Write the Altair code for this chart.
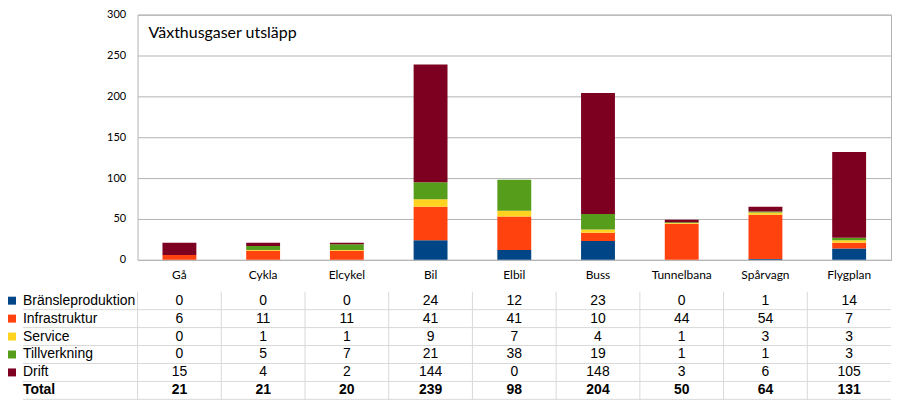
import altair as alt
import pandas as pd

categories = ["Gå", "Cykla", "Elcykel", "Bil", "Elbil", "Buss", "Tunnelbana", "Spårvagn", "Flygplan"]
series = ["Bränsleproduktion", "Infrastruktur", "Service", "Tillverkning", "Drift"]
bransle = [0, 0, 0, 24, 12, 23, 0, 1, 14]
infra = [6, 11, 11, 41, 41, 10, 44, 54, 7]
service = [0, 1, 1, 9, 7, 4, 1, 3, 3]
tillv = [0, 5, 7, 21, 38, 19, 1, 1, 3]
drift = [15, 4, 2, 144, 0, 148, 3, 6, 105]
totals = [21, 21, 20, 239, 98, 204, 50, 64, 131]
colors = ["#004586", "#ff420e", "#ffd320", "#579d1c", "#7e0021"]
y_ticks = [0, 50, 100, 150, 200, 250, 300]
title_text = "Växthusgaser utsläpp"
total_label = "Total"

values_by_series = [bransle, infra, service, tillv, drift]

rows = []
for si, (s, vals) in enumerate(zip(series, values_by_series)):
    for c, v in zip(categories, vals):
        rows.append({"cat": c, "series": s, "value": v, "order": si})
df = pd.DataFrame(rows)

table_rows = series + [total_label]
tdf = df.assign(row=df["series"], txt=df["value"].astype(str))
tot_df = pd.DataFrame({"cat": categories, "row": total_label, "txt": [str(t) for t in totals]})
labels_df = pd.DataFrame({"row": table_rows})
squares_df = pd.DataFrame({"row": series, "series": series})
cats_df = pd.DataFrame({"cat": categories})

color_scale = alt.Scale(domain=series, range=colors)
xscale = alt.Scale(domain=categories, paddingInner=0, paddingOuter=0)
row_scale = alt.Scale(domain=table_rows, paddingInner=0, paddingOuter=0)

bars = alt.Chart(df).mark_bar(width=34).encode(
    x=alt.X("cat:N", sort=categories, scale=xscale,
            axis=alt.Axis(title=None, labelAngle=0, ticks=False, domain=False,
                          labelPadding=10, labelFont="Lato", labelFontSize=12,
                          labelColor="#000000")),
    y=alt.Y("value:Q", stack="zero", scale=alt.Scale(domain=[0, 300], nice=False),
            axis=alt.Axis(values=y_ticks, title=None, ticks=False, domain=False,
                          labelPadding=12, labelFont="Lato", labelFontSize=11,
                          labelColor="#000000", gridColor="#b3b3b3")),
    color=alt.Color("series:N", scale=color_scale, legend=None),
    order=alt.Order("order:Q"),
)

title = alt.Chart(pd.DataFrame({"t": [title_text]})).mark_text(
    align="left", baseline="middle", font="Lato", fontSize=16, color="#000000"
).encode(x=alt.value(11), y=alt.value(18), text="t:N")

main = alt.layer(bars, title).properties(
    width=756, height=246, view=alt.ViewBackground(stroke="#b3b3b3")
)

tx = alt.X("cat:N", sort=categories, scale=xscale, axis=None)
ty = alt.Y("row:N", sort=table_rows, scale=row_scale, axis=None)

hrules = alt.Chart(labels_df).mark_rule(color="#d9d9d9", strokeWidth=1).encode(
    y=alt.Y("row:N", sort=table_rows, scale=row_scale, axis=None, bandPosition=1),
    x=alt.value(-115), x2=alt.value(756),
)
vrules = alt.Chart(cats_df).mark_rule(color="#d9d9d9", strokeWidth=1).encode(
    x=alt.X("cat:N", sort=categories, scale=xscale, axis=None, bandPosition=0),
    y=alt.value(0), y2=alt.value(113),
)
nums = alt.Chart(tdf).mark_text(font="Liberation Sans", fontSize=14, color="#000000").encode(
    x=tx, y=ty, text="txt:N"
)
tots = alt.Chart(tot_df).mark_text(font="Liberation Sans", fontSize=14, fontWeight="bold",
                                    color="#000000").encode(x=tx, y=ty, text="txt:N")
row_labels = alt.Chart(labels_df).transform_filter(
    alt.datum.row != total_label
).mark_text(align="left", font="Liberation Sans", fontSize=14, color="#000000").encode(
    x=alt.value(-115), y=ty, text="row:N"
)
tot_label = alt.Chart(labels_df).transform_filter(
    alt.datum.row == total_label
).mark_text(align="left", font="Liberation Sans", fontSize=14, fontWeight="bold",
            color="#000000").encode(x=alt.value(-115), y=ty, text="row:N")
squares = alt.Chart(squares_df).mark_square(size=64, opacity=1).encode(
    x=alt.value(-126), y=ty,
    color=alt.Color("series:N", scale=color_scale, legend=None),
)

table = alt.layer(hrules, vrules, nums, tots, row_labels, tot_label, squares).properties(
    width=756, height=108, view=alt.ViewBackground(strokeOpacity=0)
)

chart = alt.vconcat(main, table, spacing=9).properties(
    padding={"left": 0, "top": -1, "right": 0, "bottom": 0}
).resolve_scale(color="shared")

chart.save("out.html", embed_options={"renderer": "svg", "actions": False})
